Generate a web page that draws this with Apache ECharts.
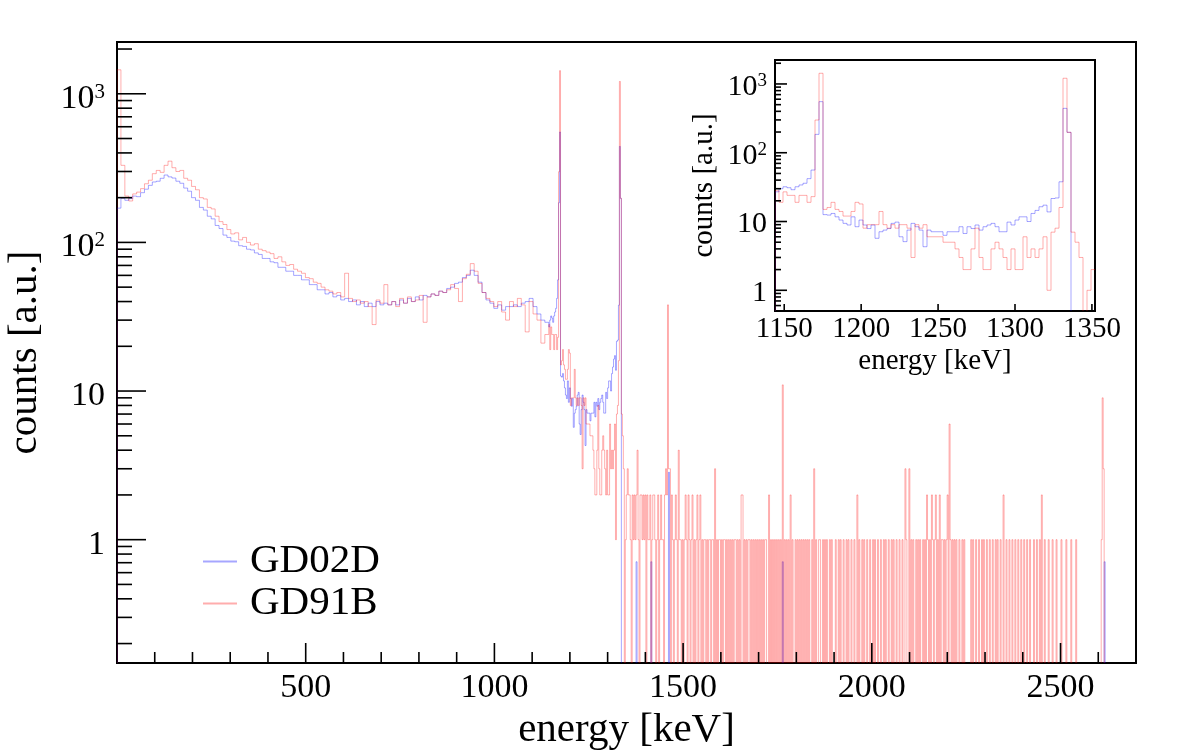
<!DOCTYPE html>
<html><head><meta charset="utf-8">
<script src="https://cdn.jsdelivr.net/npm/echarts@6/dist/echarts.min.js"></script>
<style>html,body{margin:0;padding:0;background:#fff}#c{width:1182px;height:753px}</style>
</head><body><div id="c"></div>
<script>
// ---------------- data ----------------
const seriesNames = ['GD02D', 'GD91B'];
const LOW_BIN_WIDTH = 10.4;      // keV, bins 0 .. 1144
const FINE_BIN_WIDTH = 2.6;      // keV, bins 1144 .. 2700
const FINE_START = 1144;
const TAIL_START = 1352;
const X_RANGE = [0, 2700];
const Y_RANGE = [0.148, 2230];
const INSET_X_RANGE = [1144, 1352];
const INSET_Y_RANGE = [0.5, 2230];

// 10.4 keV bins from 0 keV
const gd02dLow = [170,198,192,197,205,203,216,228,242,255,258,270,284,276,271,258,250,232,221,200,
  192,172,165,150,144,130,124,112,108,102,101,95,94,90,89,85,83,78,78,74,
  73,68,68,64,64,60,60,56,56,52,52,48,48,45,46,43,44,41,42,40,
  41,38,40,37,39,37,40,38,39,38,40,38,41,39,42,40,43,41,44,43,
  45,44,47,46,49,50,53,54,58,60,65,60,54,46,41,39,36,38,35,37,
  37,38,37,39,40,42,37,33,30,29];
const gd91bLow = [1450,330,205,190,212,218,230,248,262,290,305,296,330,352,318,300,305,270,262,238,
  226,200,196,172,168,150,138,132,122,114,116,104,108,100,96,98,90,88,86,84,
  78,80,74,70,71,66,64,62,58,57,54,53,50,48,47,45,46,43,62,42,
  40,41,39,40,37,28,41,39,52,38,40,37,42,39,43,40,41,44,29,43,
  45,44,47,46,48,52,49,40,57,61,72,64,53,46,42,40,37,40,34,30,
  40,37,42,38,25,40,33,30,21,24];

// 2.6 keV bins from 1144 to 1352 keV
const gd02dFine = [27,30,32,31,29,32,34,36,42,56,185,553,12.6,12.4,13.1,11.7,10.5,9.4,8.9,11.7,
  8.4,10.5,8.9,7.9,8.9,5.7,7.1,7.5,7.9,9.4,9.8,6.0,5.1,7.5,9.4,8.4,7.5,4.3,7.5,7.1,
  7.1,7.1,6.3,7.1,7.1,7.1,8.4,6.7,8.4,7.9,8.9,7.5,8.4,8.9,9.4,8.4,7.1,7.1,9.8,8.9,
  10.5,11.7,11.7,10.0,13.1,14.5,16.4,17.3,13.8,21.6,22,37.8,442,198,0,0,0,0,0,0];
const gd91bFine = [28,19,27,24,24,19,24,24,19,23,299,1430,15,16,19,15,14,12,12,14,
  19,18,8,9,9,9,14,9,8,9,8,9,9,8,3,9,8,9,6,6,
  6,6,5,5,5,4,3,2,2,4,8,3,2,2,4,5,4,3,2,4,
  2,2,6,3,4,3,4,6,1,7,8,16,1210,198,7,5,3,0,1,2];

// non-empty 2.6 keV bins above 1352 keV: [energy keV, counts]
const gd02dTail = [[1376,0.71],[1415,0.71],[1462,2.84],[1765,0.71],[2616,0.71]];
const gd91bTail = [
  [1353,3],[1356,2],[1359,2],[1362,1],[1365,2],[1368,1],[1371,2],[1374,1],[1377,2],[1380,4],[1383,1],[1386,2],
  [1389,2],[1392,1],[1395,2],[1398,1],[1401,2],[1404,2],[1407,1],[1410,1],[1414,2],[1417,1],[1421,2],[1424,2],
  [1427,1],[1431,1],[1434,2],[1438,1],[1441,2],[1445,1],[1448,1],[1451,2],[1454,3],[1457,2],[1460,38],[1463,3],
  [1466,3],[1469,2],[1473,1],[1477,1],[1480,2],[1484,1],[1488,4],[1491,1],[1495,1],[1499,1],
  [1503,1],[1507,2],[1510,1],[1514,2],[1518,1],[1522,1],[1526,2],[1530,1],[1534,1],[1538,2],[1542,1],[1546,2],
  [1550,1],[1555,1],[1559,1],[1563,1],[1568,1],[1572,1],[1576,1],[1580,1],[1586,3],[1590,1],[1594,1],[1598,1],
  [1603,1],[1608,1],[1612,1],[1617,1],[1621,1],[1626,1],[1631,1],[1636,1],[1640,1],[1645,1],[1650,1],[1654,2],
  [1658,2],[1663,1],[1667,1],[1672,1],[1677,1],[1681,1],[1686,1],[1691,1],[1696,1],
  [1701,1],[1706,1],[1711,1],[1716,1],[1721,1],[1728,2],[1733,1],[1738,1],[1744,1],[1749,1],
  [1753,1],[1758,1],[1764,11],[1769,1],[1774,1],[1780,1],[1786,2],[1791,1],[1797,1],
  [1802,1],[1808,1],[1813,1],[1818,1],[1824,1],[1829,1],[1835,1],[1841,1],[1848,3],
  [1853,1],[1859,1],[1864,1],[1870,1],[1876,1],[1882,1],[1888,1],[1894,1],
  [1904,1],[1911,1],[1918,1],[1925,1],[1932,1],[1939,1],[1946,1],[1953,1],[1961,2],[1967,1],[1974,1],[1981,1],
  [1988,1],[1995,1],[2002,1],[2009,1],[2016,1],[2024,1],[2031,1],[2038,1],[2045,1],[2052,1],[2059,1],[2066,1],
  [2073,1],[2080,1],[2088,3],[2092,1],[2099,3],
  [2105,1],[2111,1],[2117,1],[2123,1],[2129,1],[2135,1],[2141,1],[2145,2],[2150,1],[2154,1],[2158,2],[2162,1],
  [2166,1],[2170,2],[2175,1],[2180,2],[2184,1],[2188,1],[2193,1],[2197,1],[2201,2],[2205,6],[2209,1],[2214,1],
  [2219,1],[2224,1],[2231,1],[2239,1],[2246,1],
  [2262,1],[2269,1],[2276,1],[2284,1],[2291,1],[2298,1],[2306,1],[2313,1],[2320,1],[2327,1],[2334,1],[2341,1],
  [2348,2],[2356,1],[2364,1],[2372,1],[2380,1],[2388,1],[2396,1],[2404,1],[2412,1],[2420,1],[2429,1],[2437,1],
  [2444,1],[2450,2],[2458,1],[2468,1],[2479,1],[2490,1],[2502,1],[2515,1],[2528,1],[2541,1],
  [2609,1],[2612,9],[2615,3]];

// ticks
const mainXMajorTicks = [500,1000,1500,2000,2500];
const mainXMinorTicks = [100,200,300,400,600,700,800,900,1100,1200,1300,1400,1600,1700,1800,1900,2100,2200,2300,2400,2600];
const mainYMajorTicks = [1,10,100,1000];
const mainYMinorTicks = [0.2,0.3,0.4,0.5,0.6,0.7,0.8,0.9,2,3,4,5,6,7,8,9,20,30,40,50,60,70,80,90,200,300,400,500,600,700,800,900,2000];
const insetXMajorTicks = [1150,1200,1250,1300,1350];
const insetYMajorTicks = [1,10,100,1000];
const insetYMinorTicks = [0.6,0.7,0.8,0.9,2,3,4,5,6,7,8,9,20,30,40,50,60,70,80,90,200,300,400,500,600,700,800,900,2000];

// ---------------- build ----------------
// bins: [x0, x1, value]
function tailBins(tail, xEnd) {
  const m = new Map();
  tail.forEach(([e, v]) => m.set(Math.round((e - TAIL_START - FINE_BIN_WIDTH / 2) / FINE_BIN_WIDTH), v));
  const out = [];
  const n = Math.ceil((xEnd - TAIL_START) / FINE_BIN_WIDTH);
  for (let j = 0; j < n; j++) {
    const x0 = TAIL_START + j * FINE_BIN_WIDTH;
    out.push([x0, Math.min(x0 + FINE_BIN_WIDTH, xEnd), m.has(j) ? m.get(j) : 0]);
  }
  return out;
}
function fineBins(fine) {
  return fine.map((v, i) => [FINE_START + i * FINE_BIN_WIDTH, FINE_START + (i + 1) * FINE_BIN_WIDTH, v]);
}
function lowBins(low) {
  return low.map((v, i) => [i * LOW_BIN_WIDTH, (i + 1) * LOW_BIN_WIDTH, v]);
}
// items: [x0, x1, value, previous value]
function withPrev(bins) {
  return bins.map((b, i) => [b[0], b[1], b[2], i === 0 ? 0 : bins[i - 1][2]]);
}
const blueMain = withPrev([...lowBins(gd02dLow), ...fineBins(gd02dFine), ...tailBins(gd02dTail, X_RANGE[1])]);
const redMain = withPrev([...lowBins(gd91bLow), ...fineBins(gd91bFine), ...tailBins(gd91bTail, X_RANGE[1])]);
const blueInset = withPrev(fineBins(gd02dFine));
const redInset = withPrev(fineBins(gd91bFine));

const FONT = 'Liberation Serif';
const BLUE = 'rgba(0,0,255,0.35)';
const RED = 'rgba(255,0,0,0.32)';

function histRenderer(yMin, color) {
  return function (params, api) {
    const x0 = api.value(0), x1 = api.value(1), v = api.value(2), vp = api.value(3);
    const vv = v > yMin ? v : yMin, pv = vp > yMin ? vp : yMin;
    if (v <= 0 && vp <= 0) return { type: 'group', children: [] };
    const pts = [api.coord([x0, pv]), api.coord([x0, vv])];
    if (v > 0) pts.push(api.coord([x1, vv]));
    return { type: 'polyline', shape: { points: pts }, style: { stroke: color, fill: null, lineWidth: 1 }, silent: true };
  };
}

function powLabel(v) {
  const l = Math.log10(v), e = Math.round(l);
  if (Math.abs(l - e) > 1e-6) return '';
  if (e < 0) return '';
  if (e <= 1) return String(Math.round(Math.pow(10, e)));
  return '{b|10}{s|' + e + '}';
}
const plainLabel = v => String(Math.round(v));

// tick rows: [kind(0=y,1=x), value, length]
function tickRows(xMaj, xMin, yMaj, yMin, lx, sx, ly, sy) {
  const rows = [];
  xMaj.forEach(v => rows.push([1, v, lx]));
  xMin.forEach(v => rows.push([1, v, sx]));
  yMaj.forEach(v => rows.push([0, v, ly]));
  yMin.forEach(v => rows.push([0, v, sy]));
  return rows;
}
function tickRenderer(xMin, yMin) {
  return function (params, api) {
    const kind = api.value(0), v = api.value(1), len = api.value(2);
    let shape;
    if (kind === 0) {
      const p = api.coord([xMin, v]);
      shape = { x1: p[0], y1: p[1], x2: p[0] + len, y2: p[1] };
    } else {
      const p = api.coord([v, yMin]);
      shape = { x1: p[0], y1: p[1], x2: p[0], y2: p[1] - len };
    }
    return { type: 'line', shape, style: { stroke: '#000', lineWidth: 1.6 }, silent: true };
  };
}

function histSeries(name, data, xi, yMin, color, z) {
  return { name, type: 'custom', xAxisIndex: xi, yAxisIndex: xi, data, clip: true, z, silent: true,
    encode: { x: [0, 1], y: 2 }, itemStyle: { color }, renderItem: histRenderer(yMin, color) };
}

const chart = echarts.init(document.getElementById('c'), null, { renderer: 'canvas' });
chart.setOption({
  animation: false,
  backgroundColor: '#fff',
  grid: [
    { left: 117, top: 42, width: 1019, height: 621, show: true, borderColor: '#000', borderWidth: 2, backgroundColor: 'transparent', outerBoundsMode: 'none', containLabel: false },
    { left: 775, top: 60, width: 320, height: 251, show: true, borderColor: '#000', borderWidth: 2, backgroundColor: '#fff', outerBoundsMode: 'none', containLabel: false }
  ],
  legend: {
    data: seriesNames,
    orient: 'vertical', left: 198, top: 536,
    itemWidth: 34, itemHeight: 2, itemGap: 1, icon: 'rect',
    textStyle: { fontFamily: FONT, fontSize: 41, color: '#000', padding: [0, 0, 0, 8] }
  },
  xAxis: [
    { gridIndex: 0, type: 'value', min: X_RANGE[0], max: X_RANGE[1], interval: 500,
      name: 'energy [keV]', nameLocation: 'middle', nameGap: 42,
      nameTextStyle: { fontFamily: FONT, fontSize: 41, color: '#000' },
      axisLine: { show: true, onZero: false, lineStyle: { color: '#000', width: 2 } },
      axisTick: { show: false }, splitLine: { show: false },
      axisLabel: { fontFamily: FONT, fontSize: 34, color: '#000', margin: 8, showMinLabel: false, showMaxLabel: false, formatter: plainLabel } },
    { gridIndex: 1, type: 'value', min: INSET_X_RANGE[0], max: INSET_X_RANGE[1], interval: 50,
      name: 'energy [keV]', nameLocation: 'middle', nameGap: 36,
      nameTextStyle: { fontFamily: FONT, fontSize: 29, color: '#000' },
      axisLine: { show: true, onZero: false, lineStyle: { color: '#000', width: 2 } },
      axisTick: { show: false }, splitLine: { show: false },
      axisLabel: { fontFamily: FONT, fontSize: 29, color: '#000', margin: 4, customValues: insetXMajorTicks, formatter: plainLabel } }
  ],
  yAxis: [
    { gridIndex: 0, type: 'log', logBase: 10, min: Y_RANGE[0], max: Y_RANGE[1],
      name: 'counts [a.u.]', nameLocation: 'middle', nameGap: 71, nameRotate: 90,
      nameTextStyle: { fontFamily: FONT, fontSize: 41, color: '#000' },
      axisLine: { show: true, onZero: false, lineStyle: { color: '#000', width: 2 } },
      axisTick: { show: false }, splitLine: { show: false }, minorTick: { show: false },
      axisLabel: { fontFamily: FONT, fontSize: 34, color: '#000', margin: 12, padding: [10, 0, 0, 0],
        showMinLabel: false, showMaxLabel: false, formatter: powLabel,
        rich: { b: { fontFamily: FONT, fontSize: 34, color: '#000', verticalAlign: 'bottom' },
                s: { fontFamily: FONT, fontSize: 21, color: '#000', verticalAlign: 'top' } } } },
    { gridIndex: 1, type: 'log', logBase: 10, min: INSET_Y_RANGE[0], max: INSET_Y_RANGE[1],
      name: 'counts [a.u.]', nameLocation: 'middle', nameGap: 56, nameRotate: 90,
      nameTextStyle: { fontFamily: FONT, fontSize: 29, color: '#000' },
      axisLine: { show: true, onZero: false, lineStyle: { color: '#000', width: 2 } },
      axisTick: { show: false }, splitLine: { show: false }, minorTick: { show: false },
      axisLabel: { fontFamily: FONT, fontSize: 30, color: '#000', margin: 8, padding: [6, 0, 0, 0],
        showMinLabel: false, showMaxLabel: false, formatter: powLabel,
        rich: { b: { fontFamily: FONT, fontSize: 30, color: '#000', verticalAlign: 'bottom' },
                s: { fontFamily: FONT, fontSize: 19, color: '#000', verticalAlign: 'top' } } } }
  ],
  series: [
    histSeries('GD02D', blueMain, 0, Y_RANGE[0], BLUE, 3),
    histSeries('GD91B', redMain, 0, Y_RANGE[0], RED, 4),
    histSeries('GD02D', blueInset, 1, INSET_Y_RANGE[0], BLUE, 5),
    histSeries('GD91B', redInset, 1, INSET_Y_RANGE[0], RED, 6),
    { type: 'custom', xAxisIndex: 0, yAxisIndex: 0, clip: false, z: 8, silent: true,
      renderItem: tickRenderer(X_RANGE[0], Y_RANGE[0]),
      data: tickRows(mainXMajorTicks, mainXMinorTicks, mainYMajorTicks, mainYMinorTicks, 20, 11, 29, 15) },
    { type: 'custom', xAxisIndex: 1, yAxisIndex: 1, clip: false, z: 8, silent: true,
      renderItem: tickRenderer(INSET_X_RANGE[0], INSET_Y_RANGE[0]),
      data: tickRows(insetXMajorTicks, [], insetYMajorTicks, insetYMinorTicks, 7, 4, 12, 6) }
  ]
});
</script></body></html>
